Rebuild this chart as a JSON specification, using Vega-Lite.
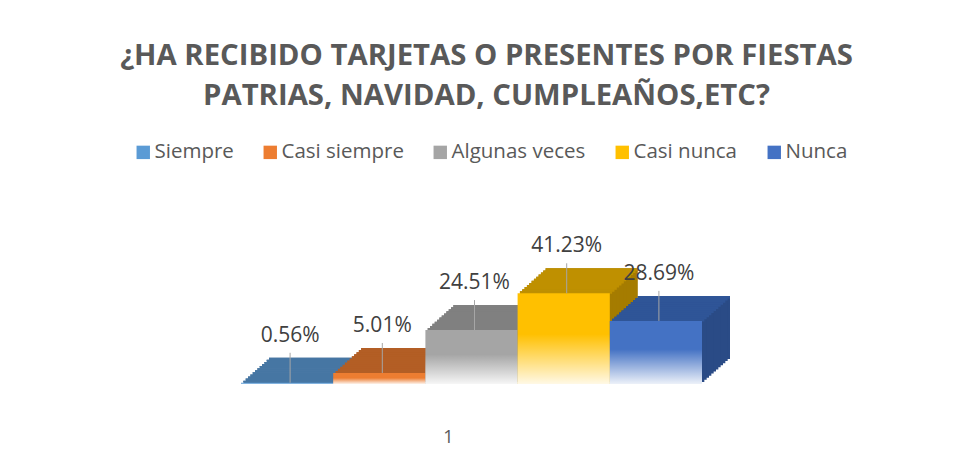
{
  "$schema": "https://vega.github.io/schema/vega-lite/v6.json",
  "autosize": {"type": "none"},
  "padding": {"left": 241, "top": 285, "right": 254, "bottom": 77},
  "width": 461,
  "height": 99,
  "background": "white",
  "config": {"view": {"stroke": null}},
  "title": {
    "text": ["¿HA RECIBIDO TARJETAS O PRESENTES POR FIESTAS", "PATRIAS, NAVIDAD, CUMPLEAÑOS,ETC?"],
    "font": "Open Sans", "fontSize": 29.3, "fontWeight": "bold", "color": "#595959",
    "lineHeight": 40, "anchor": "middle", "frame": "group", "dx": 15, "offset": 31
  },
  "data": {"values": [
    {"serie": "Siempre", "valor": 0.0056},
    {"serie": "Casi siempre", "valor": 0.0501},
    {"serie": "Algunas veces", "valor": 0.2451},
    {"serie": "Casi nunca", "valor": 0.4123},
    {"serie": "Nunca", "valor": 0.2869}
  ]},
  "encoding": {
    "x": {"field": "serie", "type": "nominal",
      "sort": ["Siempre", "Casi siempre", "Algunas veces", "Casi nunca", "Nunca"],
      "scale": {"paddingInner": 0, "paddingOuter": 0},
      "axis": {"title": "1", "labels": false, "ticks": false, "domain": false, "titleFont": "Open Sans", "titleFontSize": 18, "titleFontWeight": "normal", "titleColor": "#595959", "titlePadding": 44, "titleX": 207}},
    "y": {"field": "valor", "type": "quantitative", "scale": {"domain": [0, 0.45]}, "axis": null}
  },
  "resolve": {"scale": {"fill": "independent"}},
  "layer": [
    {"mark": {"type": "bar", "xOffset": 28, "yOffset": -25, "y2Offset": -25}, "encoding": {"fill": {"field": "serie", "type": "nominal", "scale": {"domain": ["Siempre", "Casi siempre", "Algunas veces", "Casi nunca", "Nunca"], "range": ["#3D6B95", "#A8561F", "#737373", "#A57C00", "#2A4B86"]}, "legend": null}}},
    {"mark": {"type": "bar", "xOffset": 25.667, "yOffset": -22.917, "y2Offset": -22.917}, "encoding": {"fill": {"field": "serie", "type": "nominal", "scale": {"domain": ["Siempre", "Casi siempre", "Algunas veces", "Casi nunca", "Nunca"], "range": ["#3D6B95", "#A8561F", "#737373", "#A57C00", "#2A4B86"]}, "legend": null}}},
    {"mark": {"type": "bar", "xOffset": 23.333, "yOffset": -20.833, "y2Offset": -20.833}, "encoding": {"fill": {"field": "serie", "type": "nominal", "scale": {"domain": ["Siempre", "Casi siempre", "Algunas veces", "Casi nunca", "Nunca"], "range": ["#3D6B95", "#A8561F", "#737373", "#A57C00", "#2A4B86"]}, "legend": null}}},
    {"mark": {"type": "bar", "xOffset": 21, "yOffset": -18.75, "y2Offset": -18.75}, "encoding": {"fill": {"field": "serie", "type": "nominal", "scale": {"domain": ["Siempre", "Casi siempre", "Algunas veces", "Casi nunca", "Nunca"], "range": ["#3D6B95", "#A8561F", "#737373", "#A57C00", "#2A4B86"]}, "legend": null}}},
    {"mark": {"type": "bar", "xOffset": 18.667, "yOffset": -16.667, "y2Offset": -16.667}, "encoding": {"fill": {"field": "serie", "type": "nominal", "scale": {"domain": ["Siempre", "Casi siempre", "Algunas veces", "Casi nunca", "Nunca"], "range": ["#3D6B95", "#A8561F", "#737373", "#A57C00", "#2A4B86"]}, "legend": null}}},
    {"mark": {"type": "bar", "xOffset": 16.333, "yOffset": -14.583, "y2Offset": -14.583}, "encoding": {"fill": {"field": "serie", "type": "nominal", "scale": {"domain": ["Siempre", "Casi siempre", "Algunas veces", "Casi nunca", "Nunca"], "range": ["#3D6B95", "#A8561F", "#737373", "#A57C00", "#2A4B86"]}, "legend": null}}},
    {"mark": {"type": "bar", "xOffset": 14, "yOffset": -12.5, "y2Offset": -12.5}, "encoding": {"fill": {"field": "serie", "type": "nominal", "scale": {"domain": ["Siempre", "Casi siempre", "Algunas veces", "Casi nunca", "Nunca"], "range": ["#3D6B95", "#A8561F", "#737373", "#A57C00", "#2A4B86"]}, "legend": null}}},
    {"mark": {"type": "bar", "xOffset": 11.667, "yOffset": -10.417, "y2Offset": -10.417}, "encoding": {"fill": {"field": "serie", "type": "nominal", "scale": {"domain": ["Siempre", "Casi siempre", "Algunas veces", "Casi nunca", "Nunca"], "range": ["#3D6B95", "#A8561F", "#737373", "#A57C00", "#2A4B86"]}, "legend": null}}},
    {"mark": {"type": "bar", "xOffset": 9.333, "yOffset": -8.333, "y2Offset": -8.333}, "encoding": {"fill": {"field": "serie", "type": "nominal", "scale": {"domain": ["Siempre", "Casi siempre", "Algunas veces", "Casi nunca", "Nunca"], "range": ["#3D6B95", "#A8561F", "#737373", "#A57C00", "#2A4B86"]}, "legend": null}}},
    {"mark": {"type": "bar", "xOffset": 7, "yOffset": -6.25, "y2Offset": -6.25}, "encoding": {"fill": {"field": "serie", "type": "nominal", "scale": {"domain": ["Siempre", "Casi siempre", "Algunas veces", "Casi nunca", "Nunca"], "range": ["#3D6B95", "#A8561F", "#737373", "#A57C00", "#2A4B86"]}, "legend": null}}},
    {"mark": {"type": "bar", "xOffset": 4.667, "yOffset": -4.167, "y2Offset": -4.167}, "encoding": {"fill": {"field": "serie", "type": "nominal", "scale": {"domain": ["Siempre", "Casi siempre", "Algunas veces", "Casi nunca", "Nunca"], "range": ["#3D6B95", "#A8561F", "#737373", "#A57C00", "#2A4B86"]}, "legend": null}}},
    {"mark": {"type": "bar", "xOffset": 2.333, "yOffset": -2.083, "y2Offset": -2.083}, "encoding": {"fill": {"field": "serie", "type": "nominal", "scale": {"domain": ["Siempre", "Casi siempre", "Algunas veces", "Casi nunca", "Nunca"], "range": ["#3D6B95", "#A8561F", "#737373", "#A57C00", "#2A4B86"]}, "legend": null}}},

    {"mark": {"type": "bar", "xOffset": 28, "yOffset": -25, "y2Offset": -22.4}, "encoding": {"y2": {"field": "valor"}, "fill": {"field": "serie", "type": "nominal", "scale": {"domain": ["Siempre", "Casi siempre", "Algunas veces", "Casi nunca", "Nunca"], "range": ["#4676A3", "#B35E25", "#808080", "#BF9000", "#2F5597"]}, "legend": null}}},
    {"mark": {"type": "bar", "xOffset": 25.667, "yOffset": -22.917, "y2Offset": -20.333}, "encoding": {"y2": {"field": "valor"}, "fill": {"field": "serie", "type": "nominal", "scale": {"domain": ["Siempre", "Casi siempre", "Algunas veces", "Casi nunca", "Nunca"], "range": ["#4676A3", "#B35E25", "#808080", "#BF9000", "#2F5597"]}, "legend": null}}},
    {"mark": {"type": "bar", "xOffset": 23.333, "yOffset": -20.833, "y2Offset": -18.25}, "encoding": {"y2": {"field": "valor"}, "fill": {"field": "serie", "type": "nominal", "scale": {"domain": ["Siempre", "Casi siempre", "Algunas veces", "Casi nunca", "Nunca"], "range": ["#4676A3", "#B35E25", "#808080", "#BF9000", "#2F5597"]}, "legend": null}}},
    {"mark": {"type": "bar", "xOffset": 21, "yOffset": -18.75, "y2Offset": -16.167}, "encoding": {"y2": {"field": "valor"}, "fill": {"field": "serie", "type": "nominal", "scale": {"domain": ["Siempre", "Casi siempre", "Algunas veces", "Casi nunca", "Nunca"], "range": ["#4676A3", "#B35E25", "#808080", "#BF9000", "#2F5597"]}, "legend": null}}},
    {"mark": {"type": "bar", "xOffset": 18.667, "yOffset": -16.667, "y2Offset": -14.083}, "encoding": {"y2": {"field": "valor"}, "fill": {"field": "serie", "type": "nominal", "scale": {"domain": ["Siempre", "Casi siempre", "Algunas veces", "Casi nunca", "Nunca"], "range": ["#4676A3", "#B35E25", "#808080", "#BF9000", "#2F5597"]}, "legend": null}}},
    {"mark": {"type": "bar", "xOffset": 16.333, "yOffset": -14.583, "y2Offset": -12}, "encoding": {"y2": {"field": "valor"}, "fill": {"field": "serie", "type": "nominal", "scale": {"domain": ["Siempre", "Casi siempre", "Algunas veces", "Casi nunca", "Nunca"], "range": ["#4676A3", "#B35E25", "#808080", "#BF9000", "#2F5597"]}, "legend": null}}},
    {"mark": {"type": "bar", "xOffset": 14, "yOffset": -12.5, "y2Offset": -9.917}, "encoding": {"y2": {"field": "valor"}, "fill": {"field": "serie", "type": "nominal", "scale": {"domain": ["Siempre", "Casi siempre", "Algunas veces", "Casi nunca", "Nunca"], "range": ["#4676A3", "#B35E25", "#808080", "#BF9000", "#2F5597"]}, "legend": null}}},
    {"mark": {"type": "bar", "xOffset": 11.667, "yOffset": -10.417, "y2Offset": -7.833}, "encoding": {"y2": {"field": "valor"}, "fill": {"field": "serie", "type": "nominal", "scale": {"domain": ["Siempre", "Casi siempre", "Algunas veces", "Casi nunca", "Nunca"], "range": ["#4676A3", "#B35E25", "#808080", "#BF9000", "#2F5597"]}, "legend": null}}},
    {"mark": {"type": "bar", "xOffset": 9.333, "yOffset": -8.333, "y2Offset": -5.75}, "encoding": {"y2": {"field": "valor"}, "fill": {"field": "serie", "type": "nominal", "scale": {"domain": ["Siempre", "Casi siempre", "Algunas veces", "Casi nunca", "Nunca"], "range": ["#4676A3", "#B35E25", "#808080", "#BF9000", "#2F5597"]}, "legend": null}}},
    {"mark": {"type": "bar", "xOffset": 7, "yOffset": -6.25, "y2Offset": -3.667}, "encoding": {"y2": {"field": "valor"}, "fill": {"field": "serie", "type": "nominal", "scale": {"domain": ["Siempre", "Casi siempre", "Algunas veces", "Casi nunca", "Nunca"], "range": ["#4676A3", "#B35E25", "#808080", "#BF9000", "#2F5597"]}, "legend": null}}},
    {"mark": {"type": "bar", "xOffset": 4.667, "yOffset": -4.167, "y2Offset": -1.583}, "encoding": {"y2": {"field": "valor"}, "fill": {"field": "serie", "type": "nominal", "scale": {"domain": ["Siempre", "Casi siempre", "Algunas veces", "Casi nunca", "Nunca"], "range": ["#4676A3", "#B35E25", "#808080", "#BF9000", "#2F5597"]}, "legend": null}}},
    {"mark": {"type": "bar", "xOffset": 2.333, "yOffset": -2.083, "y2Offset": 0.5}, "encoding": {"y2": {"field": "valor"}, "fill": {"field": "serie", "type": "nominal", "scale": {"domain": ["Siempre", "Casi siempre", "Algunas veces", "Casi nunca", "Nunca"], "range": ["#4676A3", "#B35E25", "#808080", "#BF9000", "#2F5597"]}, "legend": null}}},

    {"mark": {"type": "bar"}, "encoding": {"color": {"field": "serie", "type": "nominal",
      "sort": ["Siempre", "Casi siempre", "Algunas veces", "Casi nunca", "Nunca"],
      "scale": {"domain": ["Siempre", "Casi siempre", "Algunas veces", "Casi nunca", "Nunca"], "range": ["#5B9BD5", "#ED7D31", "#A5A5A5", "#FFC000", "#4472C4"]},
      "legend": {"orient": "none", "legendX": -108, "legendY": -143, "direction": "horizontal", "title": null,
        "labelFont": "Open Sans", "labelFontSize": 20.5, "labelColor": "#595959", "symbolType": "square", "symbolSize": 180,
        "symbolStrokeWidth": 0, "columnPadding": 26, "labelOffset": 1, "padding": 0}}}},
    {"mark": {"type": "bar", "fill": {"gradient": "linear", "x1": 0, "y1": 0, "x2": 0, "y2": 1, "stops": [
      {"offset": 0, "color": "rgba(255,255,255,0)"},
      {"offset": 0.45, "color": "rgba(255,255,255,0)"},
      {"offset": 1, "color": "rgba(255,255,255,0.9)"}]}}},
    {"mark": {"type": "rule", "color": "#A6A6A6", "strokeWidth": 1, "xOffset": 3, "y2Offset": -30}, "encoding": {"y2": {"field": "valor"}}},
    {"mark": {"type": "text", "dy": -47, "dx": 3, "font": "Open Sans", "fontSize": 21, "color": "#404040"}, "encoding": {"text": {"field": "valor", "type": "quantitative", "format": ".2%"}}}
  ]
}
